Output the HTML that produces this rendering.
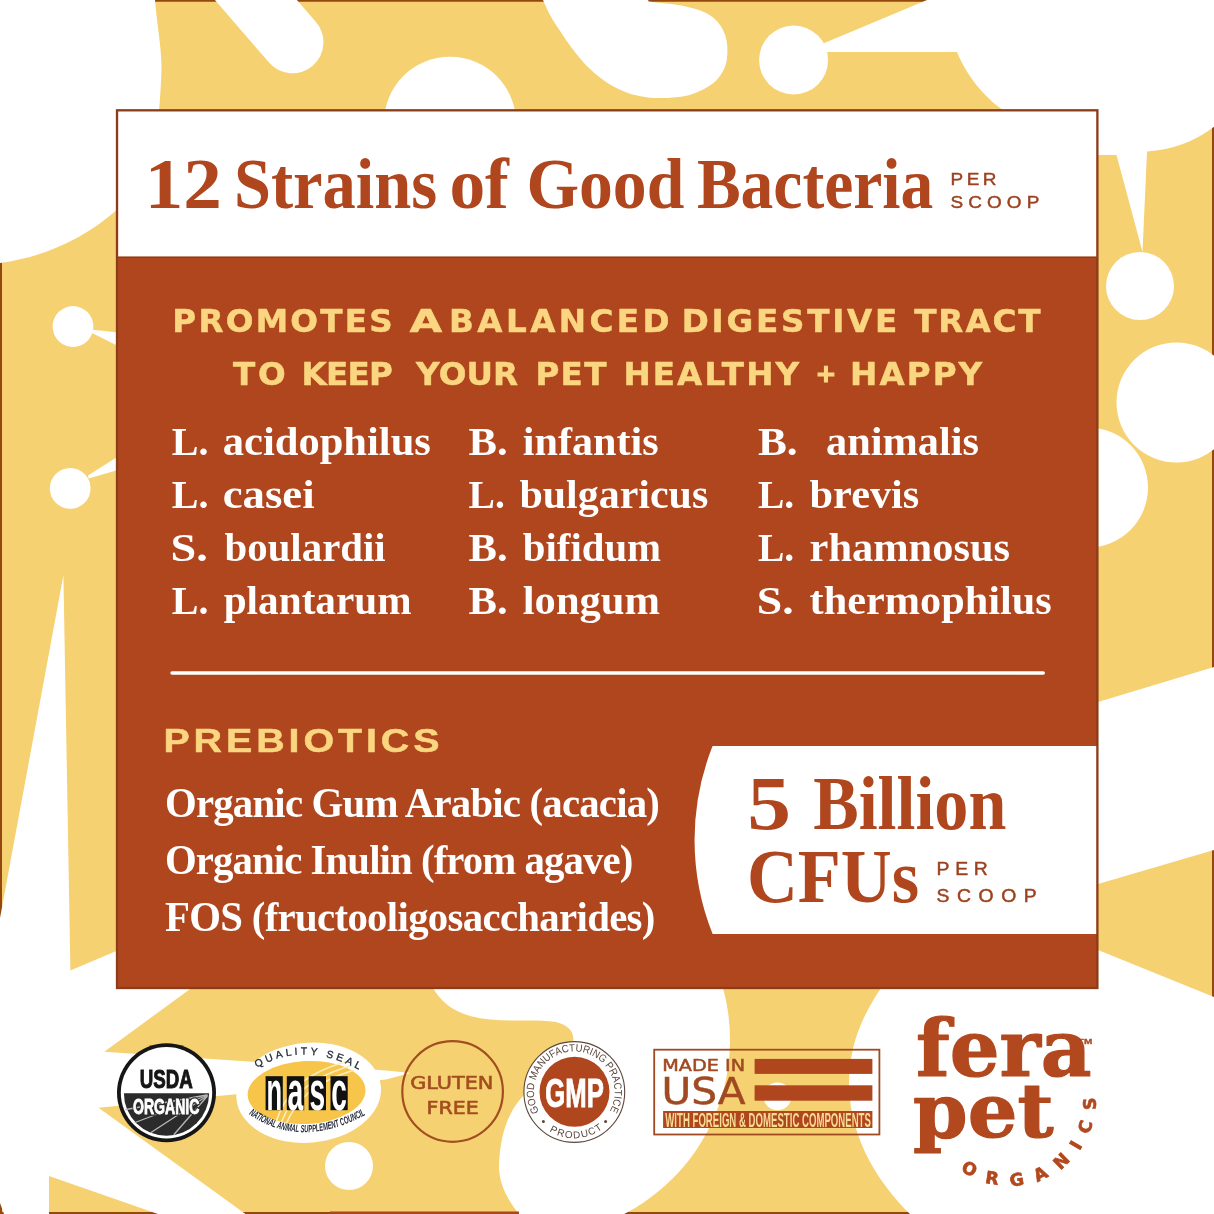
<!DOCTYPE html>
<html lang="en">
<head>
<meta charset="utf-8">
<title>12 Strains of Good Bacteria</title>
<style>
html,body{margin:0;padding:0;background:#fff;}
body{width:1214px;height:1214px;overflow:hidden;}
svg{display:block;}
.serif{font-family:"Liberation Serif",serif;font-weight:bold;}
.dj{font-family:"DejaVu Sans","Liberation Sans",sans-serif;font-weight:bold;}
.sans{font-family:"Liberation Sans",sans-serif;font-weight:bold;}
</style>
</head>
<body>
<svg width="1214" height="1214" viewBox="0 0 1214 1214">
<!-- ===== BACKGROUND ===== -->
<g id="bg">
<rect width="1214" height="1214" fill="#F6D172"/>
<rect x="0.5" y="0.25" width="1213" height="1213.25" fill="none" stroke="#94480F" stroke-width="3"/>
<path d="M0,0 L155,0 C157,25 162,50 161.5,70 C161,85 160,100 159,112 L118,112 L118,209 C85,238 45,257 0,263 Z" fill="#fff"/>
<line x1="214" y1="-48.5" x2="292.5" y2="42.3" stroke="#fff" stroke-width="62" stroke-linecap="round"/>
<circle cx="450" cy="122.7" r="66" fill="#fff"/>
<path d="M543,0 C548,12 553,21 559.3,29.7 C567,42 576,54 586,65.2 C596,75 606,83 618.6,89 C630,94.5 642,97.5 654.2,97.9 C667,98.3 679,97.5 689.8,94.9 C699,92 707,88 713.5,83 C721,76.5 725.5,68.5 726.9,59.3 C728,51 727.5,43 725.4,35.6 C723,28.5 719,22.5 713.5,17.8 C707,12.5 699,9.5 689.8,7.4 C682,5.5 674,4.3 666,3.6 C660,3 654,2.2 648.3,1.5 L648.3,0 Z" fill="#fff"/>
<circle cx="793.6" cy="60" r="34.5" fill="#fff"/>
<path d="M822,44 L927,0 L1214,0 L1214,126.8 Q1185,149 1147,151.6 L1142.5,252 L1116.5,155 L1098,155 L1098,110 L1003,110 C985,98 966,75 957,52 L822,52 Z" fill="#fff"/>
<circle cx="1140" cy="286" r="34" fill="#fff"/>
<circle cx="1176.5" cy="402.5" r="60" fill="#fff"/>
<circle cx="1088" cy="487.5" r="60" fill="#fff"/>
<path d="M1098,702 L1214,667 L1214,850 L1098,884 Z" fill="#fff"/>
<path d="M1098,950 L1214,997 L1214,1214 L910,1214 C880,1185 850,1140 849,1085 C849,1040 865,1010 890,975 Z" fill="#fff"/>
<circle cx="73" cy="326.5" r="20.4" fill="#fff"/>
<path d="M91,329.5 L118,332.6 L118,346 L91,332.5 Z" fill="#fff"/>
<circle cx="70.2" cy="488.4" r="20.4" fill="#fff"/>
<path d="M88,475.5 L118,456.5 L118,470 L88.5,478.5 Z" fill="#fff"/>
<circle cx="534" cy="1040" r="196" fill="#fff"/>
<path d="M433,988 C440,1000 450,1010 470,1016 C500,1024 530,1018 556,1022 C568,1025 575,1032 573,1042 C570,1060 545,1075 523,1096 C508,1112 500,1135 499,1166 C499,1185 508,1200 519,1214 L330,1214 L330,988 Z" fill="#F6D172"/>
<rect x="330" y="1211.5" width="189" height="2.5" fill="#A9461E"/>
<path d="M63.4,575.2 L70.4,970.5 L200,915.6 L200,981.8 L104.3,1051.7 L386,1070.6 L410.6,1073 L386,1079.6 L98.5,1107.7 L245.5,1214 L158,1214 L49,1176 L49,1214 L4,1214 L0,1203 L0,918 Z" fill="#fff"/>
<circle cx="349" cy="1166" r="24" fill="#fff"/>
</g>

<!-- ===== PANEL ===== -->
<g id="panel">
<rect x="117" y="110.3" width="980.4" height="877.7" fill="#B0461E" stroke="#8A3D18" stroke-width="2.3"/>
<rect x="118.2" y="111.5" width="978" height="145.2" fill="#fff"/>
<rect x="118.2" y="256.6" width="978" height="1.3" fill="#8A3D18"/>
<text class="serif" x="144.7" y="208.1" font-size="72" fill="#B0461E" textLength="77.1" lengthAdjust="spacingAndGlyphs">12</text>
<text class="serif" x="233.9" y="208.1" font-size="72" fill="#B0461E" textLength="203.3" lengthAdjust="spacingAndGlyphs">Strains</text>
<text class="serif" x="449.4" y="208.1" font-size="72" fill="#B0461E" textLength="59.5" lengthAdjust="spacingAndGlyphs">of</text>
<text class="serif" x="526.4" y="208.1" font-size="72" fill="#B0461E" textLength="157.9" lengthAdjust="spacingAndGlyphs">Good</text>
<text class="serif" x="696.9" y="208.1" font-size="72" fill="#B0461E" textLength="236.4" lengthAdjust="spacingAndGlyphs">Bacteria</text>
<g class="sans" font-size="17.2" fill="#9C4220" stroke="#9C4220" stroke-width="0.45" style="font-weight:normal" transform="translate(950.6 0) scale(1.1 1)">
<text x="0" y="184.8" textLength="41.6" lengthAdjust="spacing">PER</text>
<text x="0" y="207.8" textLength="80.6" lengthAdjust="spacing">SCOOP</text></g>
<text class="dj" x="172.3" y="332" font-size="32.6" fill="#FBD680" stroke="#FBD680" stroke-width="0.5" stroke-linejoin="round" textLength="220.4" lengthAdjust="spacing">PROMOTES</text>
<text class="dj" x="409.5" y="332" font-size="32.6" fill="#FBD680" stroke="#FBD680" stroke-width="0.5" stroke-linejoin="round" textLength="32.8" lengthAdjust="spacingAndGlyphs">A</text>
<text class="dj" x="449.0" y="332" font-size="32.6" fill="#FBD680" stroke="#FBD680" stroke-width="0.5" stroke-linejoin="round" textLength="220.6" lengthAdjust="spacing">BALANCED</text>
<text class="dj" x="681.8" y="332" font-size="32.6" fill="#FBD680" stroke="#FBD680" stroke-width="0.5" stroke-linejoin="round" textLength="215.5" lengthAdjust="spacing">DIGESTIVE</text>
<text class="dj" x="914.2" y="332" font-size="32.6" fill="#FBD680" stroke="#FBD680" stroke-width="0.5" stroke-linejoin="round" textLength="126.4" lengthAdjust="spacing">TRACT</text>
<text class="dj" x="232.9" y="385.2" font-size="32.6" fill="#FBD680" stroke="#FBD680" stroke-width="0.5" stroke-linejoin="round" textLength="52.8" lengthAdjust="spacing">TO</text>
<text class="dj" x="301.6" y="385.2" font-size="32.6" fill="#FBD680" stroke="#FBD680" stroke-width="0.5" stroke-linejoin="round" textLength="91.3" lengthAdjust="spacing">KEEP</text>
<text class="dj" x="416.1" y="385.2" font-size="32.6" fill="#FBD680" stroke="#FBD680" stroke-width="0.5" stroke-linejoin="round" textLength="102.0" lengthAdjust="spacing">YOUR</text>
<text class="dj" x="535.4" y="385.2" font-size="32.6" fill="#FBD680" stroke="#FBD680" stroke-width="0.5" stroke-linejoin="round" textLength="71.0" lengthAdjust="spacing">PET</text>
<text class="dj" x="623.4" y="385.2" font-size="32.6" fill="#FBD680" stroke="#FBD680" stroke-width="0.5" stroke-linejoin="round" textLength="175.7" lengthAdjust="spacing">HEALTHY</text>
<text class="dj" x="850.1" y="385.2" font-size="32.6" fill="#FBD680" stroke="#FBD680" stroke-width="0.5" stroke-linejoin="round" textLength="132.1" lengthAdjust="spacing">HAPPY</text>
<text class="dj" x="815.6" y="381.8" font-size="25" fill="#FBD680" stroke="#FBD680" stroke-width="1.2">+</text>
<text class="serif" x="171.8" y="454.7" font-size="41" fill="#fff" textLength="36.7" lengthAdjust="spacingAndGlyphs">L.</text>
<text class="serif" x="222.8" y="454.7" font-size="41" fill="#fff" textLength="208.1" lengthAdjust="spacingAndGlyphs">acidophilus</text>
<text class="serif" x="468.5" y="454.7" font-size="41" fill="#fff" textLength="39.1" lengthAdjust="spacingAndGlyphs">B.</text>
<text class="serif" x="522.8" y="454.7" font-size="41" fill="#fff" textLength="135.8" lengthAdjust="spacingAndGlyphs">infantis</text>
<text class="serif" x="757.9" y="454.7" font-size="41" fill="#fff" textLength="39.7" lengthAdjust="spacingAndGlyphs">B.</text>
<text class="serif" x="826.0" y="454.7" font-size="41" fill="#fff" textLength="152.9" lengthAdjust="spacingAndGlyphs">animalis</text>
<text class="serif" x="171.8" y="507.8" font-size="41" fill="#fff" textLength="36.7" lengthAdjust="spacingAndGlyphs">L.</text>
<text class="serif" x="222.7" y="507.8" font-size="41" fill="#fff" textLength="92.0" lengthAdjust="spacingAndGlyphs">casei</text>
<text class="serif" x="468.5" y="507.8" font-size="41" fill="#fff" textLength="36.3" lengthAdjust="spacingAndGlyphs">L.</text>
<text class="serif" x="519.4" y="507.8" font-size="41" fill="#fff" textLength="188.9" lengthAdjust="spacingAndGlyphs">bulgaricus</text>
<text class="serif" x="758.0" y="507.8" font-size="41" fill="#fff" textLength="36.2" lengthAdjust="spacingAndGlyphs">L.</text>
<text class="serif" x="809.6" y="507.8" font-size="41" fill="#fff" textLength="109.7" lengthAdjust="spacingAndGlyphs">brevis</text>
<text class="serif" x="170.5" y="561" font-size="41" fill="#fff" textLength="37.3" lengthAdjust="spacingAndGlyphs">S.</text>
<text class="serif" x="224.5" y="561" font-size="41" fill="#fff" textLength="161.2" lengthAdjust="spacingAndGlyphs">boulardii</text>
<text class="serif" x="468.5" y="561" font-size="41" fill="#fff" textLength="39.1" lengthAdjust="spacingAndGlyphs">B.</text>
<text class="serif" x="522.8" y="561" font-size="41" fill="#fff" textLength="138.3" lengthAdjust="spacingAndGlyphs">bifidum</text>
<text class="serif" x="758.0" y="561" font-size="41" fill="#fff" textLength="36.2" lengthAdjust="spacingAndGlyphs">L.</text>
<text class="serif" x="809.6" y="561" font-size="41" fill="#fff" textLength="200.5" lengthAdjust="spacingAndGlyphs">rhamnosus</text>
<text class="serif" x="171.8" y="614.1" font-size="41" fill="#fff" textLength="36.7" lengthAdjust="spacingAndGlyphs">L.</text>
<text class="serif" x="223.7" y="614.1" font-size="41" fill="#fff" textLength="187.9" lengthAdjust="spacingAndGlyphs">plantarum</text>
<text class="serif" x="468.5" y="614.1" font-size="41" fill="#fff" textLength="39.1" lengthAdjust="spacingAndGlyphs">B.</text>
<text class="serif" x="522.8" y="614.1" font-size="41" fill="#fff" textLength="137.2" lengthAdjust="spacingAndGlyphs">longum</text>
<text class="serif" x="756.8" y="614.1" font-size="41" fill="#fff" textLength="36.9" lengthAdjust="spacingAndGlyphs">S.</text>
<text class="serif" x="809.6" y="614.1" font-size="41" fill="#fff" textLength="242.1" lengthAdjust="spacingAndGlyphs">thermophilus</text>
<line x1="172.1" y1="673" x2="1043.2" y2="673" stroke="#fff" stroke-width="3.6" stroke-linecap="round"/>
<g transform="translate(163.4 0) scale(1.16 1)"><text class="sans" x="0" y="752" font-size="34" fill="#FBD680" stroke="#FBD680" stroke-width="0.5" textLength="238" lengthAdjust="spacing">PREBIOTICS</text></g>
<g class="serif" font-size="43" fill="#fff" transform="translate(165 0) scale(0.95 1)">
<text x="0" y="816.8" textLength="521" lengthAdjust="spacing">Organic Gum Arabic (acacia)</text>
<text x="0" y="874.3" textLength="493" lengthAdjust="spacing">Organic Inulin (from agave)</text>
<text x="0" y="930.8" textLength="516.2" lengthAdjust="spacing">FOS (fructooligosaccharides)</text>
</g>
<path d="M712.6,746 L1096.2,746 L1096.2,934 L712.6,934 A254,254 0 0 1 712.6,746 Z" fill="#fff"/>
<text class="serif" x="747.2" y="828.7" font-size="76" fill="#B0461E" textLength="43.8" lengthAdjust="spacingAndGlyphs">5</text>
<text class="serif" x="813.2" y="828.7" font-size="76" fill="#B0461E" textLength="193.1" lengthAdjust="spacingAndGlyphs">Billion</text>
<text class="serif" x="747.0" y="902.3" font-size="76" fill="#B0461E" textLength="172.1" lengthAdjust="spacingAndGlyphs">CFUs</text>
<g class="sans" font-size="17.6" fill="#9C4220" stroke="#9C4220" stroke-width="0.45" style="font-weight:normal" transform="translate(936.6 0) scale(1.1 1)">
<text x="0" y="874.6" textLength="46.5" lengthAdjust="spacing">PER</text>
<text x="0" y="902" textLength="91" lengthAdjust="spacing">SCOOP</text></g>
</g>
<!-- ===== BADGES ===== -->
<g id="badges">
<!-- USDA Organic -->
<g id="usda">
<circle cx="166.5" cy="1092.8" r="49.5" fill="#161616"/>
<circle cx="166.5" cy="1092.8" r="45.7" fill="#fff"/>
<path d="M123.9,1093.2 A42.6,42.6 0 0 0 209.1,1093.2 Z" fill="#2b2b2b"/>
<g stroke="#b9b9b9" stroke-width="1.3" fill="none" stroke-linecap="round">
<path d="M207,1095 L126,1109.5"/><path d="M207,1095.5 L135,1122.5"/><path d="M207,1096 L151,1132.5"/><path d="M207,1096.5 L174,1134.5"/>
</g>
<text class="sans" x="139.8" y="1087.8" font-size="26" fill="#161616" stroke="#161616" stroke-width="1" textLength="53" lengthAdjust="spacingAndGlyphs">USDA</text>
<text class="sans" x="133" y="1113.6" font-size="21.8" fill="#2b2b2b" stroke="#2b2b2b" stroke-width="3.4" textLength="66.4" lengthAdjust="spacingAndGlyphs">ORGANIC</text>
<text class="sans" x="133" y="1113.6" font-size="21.8" fill="#fff" stroke="#fff" stroke-width="0.9" textLength="66.4" lengthAdjust="spacingAndGlyphs">ORGANIC</text>
</g>
<!-- NASC -->
<g id="nasc">
<ellipse cx="308.7" cy="1092.7" rx="72.5" ry="50" fill="#fff" transform="rotate(-5 308.7 1092.7)"/>
<ellipse cx="306.6" cy="1092.5" rx="59" ry="31.5" fill="#F6C54A" transform="rotate(-3 306.6 1092.5)"/>
<g stroke="#fdeec0" stroke-width="1.6" fill="none">
<path d="M276,1122 C285,1095 300,1075 345,1062"/><path d="M281,1123 C291,1098 306,1079 350,1066"/><path d="M286,1124 C296,1101 312,1083 354,1070"/>
</g>
<g fill="#111">
<rect x="265.6" y="1076.2" width="17.2" height="34"/><rect x="286.8" y="1076.2" width="17.4" height="34"/><rect x="308.7" y="1076.2" width="17.3" height="34"/><rect x="330.5" y="1076.2" width="17.2" height="34"/>
</g>
<g class="sans" font-size="56" fill="#fff">
<text x="266.4" y="1109.6" textLength="15.6" lengthAdjust="spacingAndGlyphs">n</text>
<text x="287.6" y="1109.6" textLength="15.8" lengthAdjust="spacingAndGlyphs">a</text>
<text x="309.5" y="1109.6" textLength="15.7" lengthAdjust="spacingAndGlyphs">s</text>
<text x="331.3" y="1109.6" textLength="15.6" lengthAdjust="spacingAndGlyphs">c</text>
</g>
<path id="nascTop" d="M256,1068.5 Q305,1039 363,1072" fill="none"/>
<text font-family="'Liberation Sans',sans-serif" font-size="10.3" fill="#1d2433" stroke="#1d2433" stroke-width="0.3" letter-spacing="3.1"><textPath href="#nascTop" startOffset="1">QUALITY SEAL</textPath></text>
<path id="nascBot" d="M247,1113 Q300,1151 367,1114" fill="none"/>
<text class="sans" font-size="10.4" font-style="italic" fill="#1d2433" textLength="124" lengthAdjust="spacingAndGlyphs"><textPath href="#nascBot" startOffset="2" textLength="124" lengthAdjust="spacingAndGlyphs">NATIONAL ANIMAL SUPPLEMENT COUNCIL</textPath></text>
</g>
<!-- Gluten free -->
<g id="gf">
<circle cx="452.6" cy="1091.5" r="50.3" fill="none" stroke="#A24E20" stroke-width="2.2"/>
<text class="dj" x="410.2" y="1088.8" font-size="18" fill="#A24E20" stroke="#A24E20" stroke-width="0.6" style="font-weight:normal" textLength="83.2" lengthAdjust="spacingAndGlyphs">GLUTEN</text>
<text class="dj" x="426.6" y="1113.5" font-size="18" fill="#A24E20" stroke="#A24E20" stroke-width="0.6" style="font-weight:normal" textLength="52.2" lengthAdjust="spacingAndGlyphs">FREE</text>
</g>
<!-- GMP -->
<g id="gmp">
<circle cx="574.3" cy="1092" r="50.4" fill="#fff" stroke="#5d463c" stroke-width="1.1"/>
<circle cx="574.5" cy="1091.8" r="35" fill="#B0461E"/>
<text class="sans" x="545.3" y="1107.2" font-size="40.2" fill="#fff" stroke="#fff" stroke-width="0.9" textLength="58.6" lengthAdjust="spacingAndGlyphs">GMP</text>
<path id="gmpTop" d="M539.6,1112.6 A40.4,40.4 0 1 1 609,1112.6" fill="none"/>
<text font-family="'Liberation Sans',sans-serif" font-size="10.6" fill="#5d463c"><textPath href="#gmpTop" startOffset="1" textLength="167" lengthAdjust="spacingAndGlyphs">GOOD MANUFACTURING PRACTICE</textPath></text>
<path id="gmpBot" d="M547,1129.6 A47.5,47.5 0 0 0 601.6,1129.6" fill="none"/>
<text font-family="'Liberation Sans',sans-serif" font-size="10" fill="#5d463c" letter-spacing="1.1"><textPath href="#gmpBot" startOffset="3">PRODUCT</textPath></text>
<circle cx="543.4" cy="1121.5" r="1.5" fill="#5d463c"/><circle cx="605.6" cy="1121.5" r="1.5" fill="#5d463c"/>
</g>
<!-- Made in USA -->
<g id="usa">
<circle cx="777.5" cy="1096.4" r="13.9" fill="#fff"/>
<rect x="654.2" y="1049.7" width="225.2" height="84.8" fill="none" stroke="#A04A22" stroke-width="1.8"/>
<text class="dj" x="662.3" y="1070.8" font-size="15.6" fill="#A04A22" textLength="82.7" lengthAdjust="spacingAndGlyphs" style="font-weight:normal" stroke="#A04A22" stroke-width="0.5">MADE IN</text>
<text class="dj" x="661.5" y="1104" font-size="37.4" fill="#A04A22" stroke="#A04A22" stroke-width="0.5" textLength="84" lengthAdjust="spacingAndGlyphs" style="font-weight:normal">USA</text>
<rect x="754.6" y="1058.9" width="117.8" height="15" fill="#B0461E"/>
<rect x="754.6" y="1085.3" width="117.8" height="15.4" fill="#B0461E"/>
<rect x="663.1" y="1111" width="209.3" height="17" fill="#B0461E"/>
<text class="sans" x="665.3" y="1127" font-size="20" fill="#F8DC93" textLength="205.6" lengthAdjust="spacingAndGlyphs">WITH FOREIGN &amp; DOMESTIC COMPONENTS</text>
</g>
<!-- fera pet -->
<g id="fera" fill="#B2481E" stroke-linejoin="round">
<text font-family="'DejaVu Serif',serif" font-weight="bold" x="916" y="1076" font-size="79" stroke="#B2481E" stroke-width="1.2" textLength="175.6" lengthAdjust="spacingAndGlyphs">fera</text>
<text font-family="'DejaVu Serif',serif" font-weight="bold" x="913" y="1136.5" font-size="74" stroke="#B2481E" stroke-width="1.2" textLength="140.6" lengthAdjust="spacingAndGlyphs">pet</text>
<text class="sans" x="1077.8" y="1043.6" font-size="7.2" stroke="#B2481E" stroke-width="0.3" textLength="14.4" lengthAdjust="spacingAndGlyphs">TM</text>
<path id="orgArc" d="M955.9,1166.4 A85.6,85.6 0 0 0 1094.8,1088.1" fill="none"/>
<text class="dj" font-size="17.2" letter-spacing="12.6" stroke="#B2481E" stroke-width="0.7"><textPath href="#orgArc" startOffset="6">ORGANICS</textPath></text>
</g>
</g>

</svg>
</body>
</html>
